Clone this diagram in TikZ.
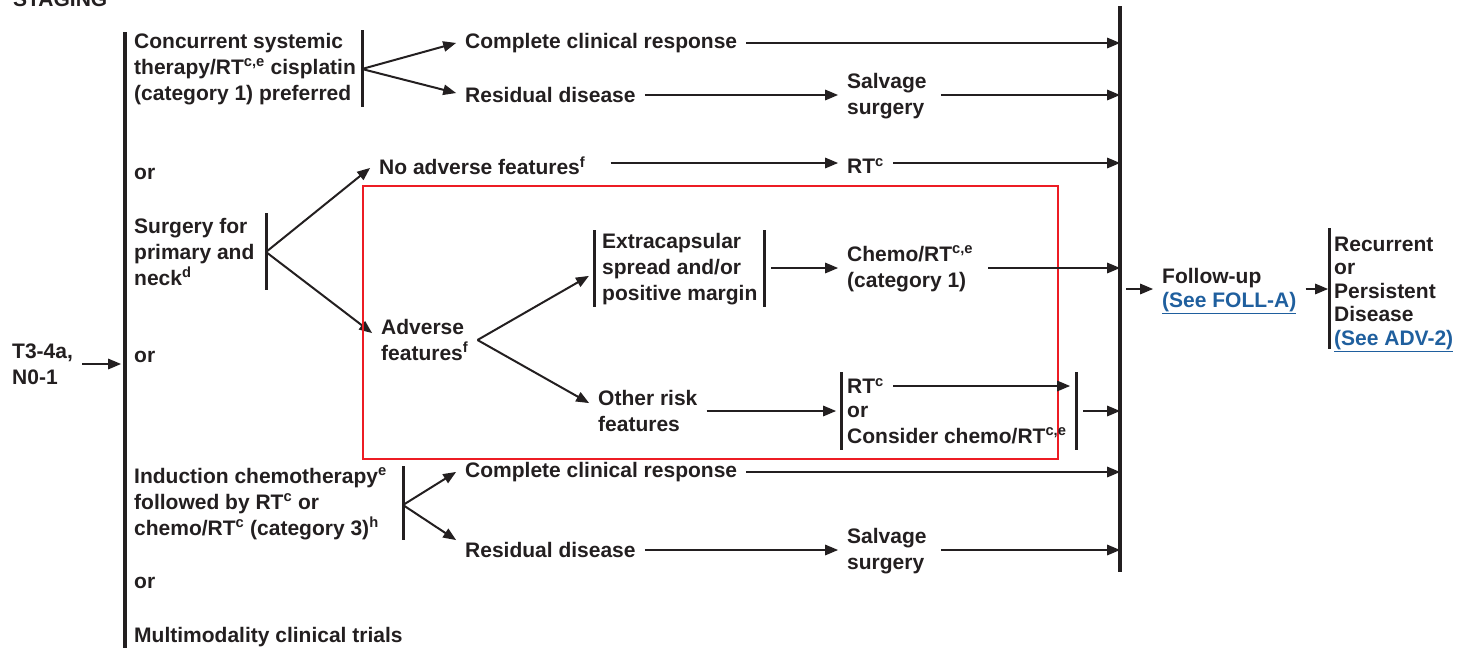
\documentclass[tikz,border=0pt]{standalone}
\usepackage{fontspec}
\setmainfont{Liberation Sans}
\usetikzlibrary{arrows}
\definecolor{ink}{HTML}{231F20}
\definecolor{linkblue}{HTML}{1F5F9E}
\definecolor{boxred}{HTML}{ED1C24}

\begin{document}
\begin{tikzpicture}[line cap=butt,line join=miter,>=triangle 45,x=1pt,y=-1pt, draw=ink,
    txt/.style={anchor=west, align=left, inner xsep=9pt, inner ysep=1pt, text=ink,
        font=\fontsize{21}{26}\selectfont\bfseries},
    tight/.style={font=\fontsize{21}{23.5}\selectfont\bfseries},
    bar/.style={line width=3pt},
    arr/.style={->, line width=2pt},
    link/.style={text=linkblue}]
                    \useasboundingbox (0,0) rectangle (1457,651);

                    \node[txt] (staging) at (4,-1) {STAGING};
                    \node[txt] (stage) at (3,364) {T3-4a,\\N0-1};

                    % main bar and the bar before follow-up
                    \coordinate (mtop) at (125,32);
                    \coordinate (mbot) at (125,648);
                    \coordinate (ftop) at (1120,6);
                    \coordinate (fbot) at (1120,572);
                    \draw[bar, line width=3.4pt] (mtop) -- (mbot);
                    \draw[bar, line width=3.4pt] (ftop) -- (fbot);
                    \draw[arr, shorten >=4pt] (stage.east) -- (stage.east -| mtop);

                    % concurrent systemic therapy
                    \node[txt] (conc) at (125,69) {Concurrent systemic\\therapy/RT\textsuperscript{c,e} cisplatin\\(category 1) preferred};
                    \coordinate (concbar) at (362,69);
                    \draw[bar] (362,30) -- (362,107);
                    \node[txt] (ccr1) at (456,43) {Complete clinical response};
                    \node[txt] (res1) at (456,95) {Residual disease};
                    \node[txt] (salv1) at (838,96) {Salvage\\surgery};
                    \draw[arr] (concbar) -- (ccr1.west);
                    \draw[arr] (concbar) -- ([yshift=2pt]res1.west);
                    \draw[arr] (ccr1.east) -- (ccr1.east -| ftop);
                    \draw[arr] (res1.east) -- (salv1.west |- res1.east);
                    \draw[arr, shorten <=5pt] (salv1.east |- res1.east) -- (res1.east -| ftop);

                    \node[txt] (or1) at (125,174) {or};

                    % surgery
                    \node[txt] (surg) at (125,252) {Surgery for\\primary and\\neck\textsuperscript{d}};
                    \coordinate (surgbar) at (266,252);
                    \draw[bar] (266,213) -- (266,290);
                    \node[txt] (noadv) at (370,166) {No adverse features\textsuperscript{f}};
                    \node[txt] (rt1) at (838,166) {RT\textsuperscript{c}};
                    \node[txt] (adv) at (372,340) {Adverse\\features\textsuperscript{f}};
                    \draw[arr] (surgbar) -- ([yshift=-2pt]noadv.west);
                    \draw[arr] (surgbar) -- ([yshift=7pt]adv.west);
                    \draw[arr, shorten <=16pt] ([yshift=3pt]noadv.east) -- ([yshift=3pt]rt1.west);
                    \draw[arr] ([yshift=3pt]rt1.east) -- ([yshift=3pt]rt1.east -| ftop);

                    % adverse features box
                    \draw[boxred, line width=1.4pt] (363,186) rectangle (1058,459);
                    \node[txt] (ext) at (593,269) {Extracapsular\\spread and/or\\positive margin};
                    \coordinate (extbar) at (594,273);
                    \coordinate (extrbar) at (764,268);
                    \draw[bar] (594,230) -- (594,307);
                    \draw[bar] (764,230) -- (764,307);
                    \node[txt] (chemo1) at (838,269) {Chemo/RT\textsuperscript{c,e}\\(category 1)};
                    \node[txt] (other) at (589,411) {Other risk\\features};
                    \node[txt] (optrt) at (838,386) {RT\textsuperscript{c}};
                    \node[txt] (optch) at (838,425) {or\\Consider chemo/RT\textsuperscript{c,e}};
                    \coordinate (optbar) at (841,411);
                    \coordinate (obar) at (1076,411);
                    \draw[bar] (841,372) -- (841,450);
                    \draw[bar] (1076,372) -- (1076,450);
                    \draw[arr, shorten >=6pt] (adv.east) -- (extbar);
                    \draw[arr] (adv.east) -- ([yshift=8pt]other.west);
                    \draw[arr, shorten <=7pt] (extrbar) -- (chemo1.west |- extrbar);
                    \draw[arr, shorten <=6pt] (chemo1.east |- extrbar) -- (extrbar -| ftop);
                    \draw[arr, shorten >=5pt] (other.east) -- (optbar);
                    \draw[arr, shorten >=6pt] (optrt.east) -- (optrt.east -| obar);
                    \draw[arr, shorten <=7pt] (obar) -- (obar -| ftop);

                    \node[txt] (or2) at (125,357) {or};

                    % induction chemotherapy
                    \node[txt] (ind) at (125,504) {Induction chemotherapy\textsuperscript{e}\\followed by RT\textsuperscript{c} or\\chemo/RT\textsuperscript{c} (category 3)\textsuperscript{h}};
                    \coordinate (indbar) at (403,505);
                    \draw[bar] (403,466) -- (403,540);
                    \node[txt] (ccr2) at (456,472) {Complete clinical response};
                    \node[txt] (res2) at (456,550) {Residual disease};
                    \node[txt] (salv2) at (838,551) {Salvage\\surgery};
                    \draw[arr] (indbar) -- (ccr2.west);
                    \draw[arr] (indbar) -- ([yshift=10pt]res2.west);
                    \draw[arr] (ccr2.east) -- (ccr2.east -| ftop);
                    \draw[arr] (res2.east) -- (salv2.west |- res2.east);
                    \draw[arr, shorten <=5pt] (salv2.east |- res2.east) -- (res2.east -| ftop);

                    \node[txt] (or3) at (125,583) {or};
                    \node[txt] (trials) at (125,637) {Multimodality clinical trials};

                    % follow-up
                    \node[txt, tight] (fu) at (1153,291) {Follow-up\\{\color{linkblue}\underline{(See FOLL-A)}}};
                    \coordinate (fubar) at (1120,289);
                    \coordinate (recbar) at (1329,289);
                    \draw[bar] (1329,228) -- (1329,349);
                    \node[txt, tight] (rec) at (1325,294) {Recurrent\\or\\Persistent\\Disease\\{\color{linkblue}\underline{(See ADV-2)}}};
                    \draw[arr, shorten <=6pt] (fubar) -- (fu.west |- fubar);
                    \draw[arr, shorten >=1pt] (fu.east |- fubar) -- (recbar);
\end{tikzpicture}
\end{document}
